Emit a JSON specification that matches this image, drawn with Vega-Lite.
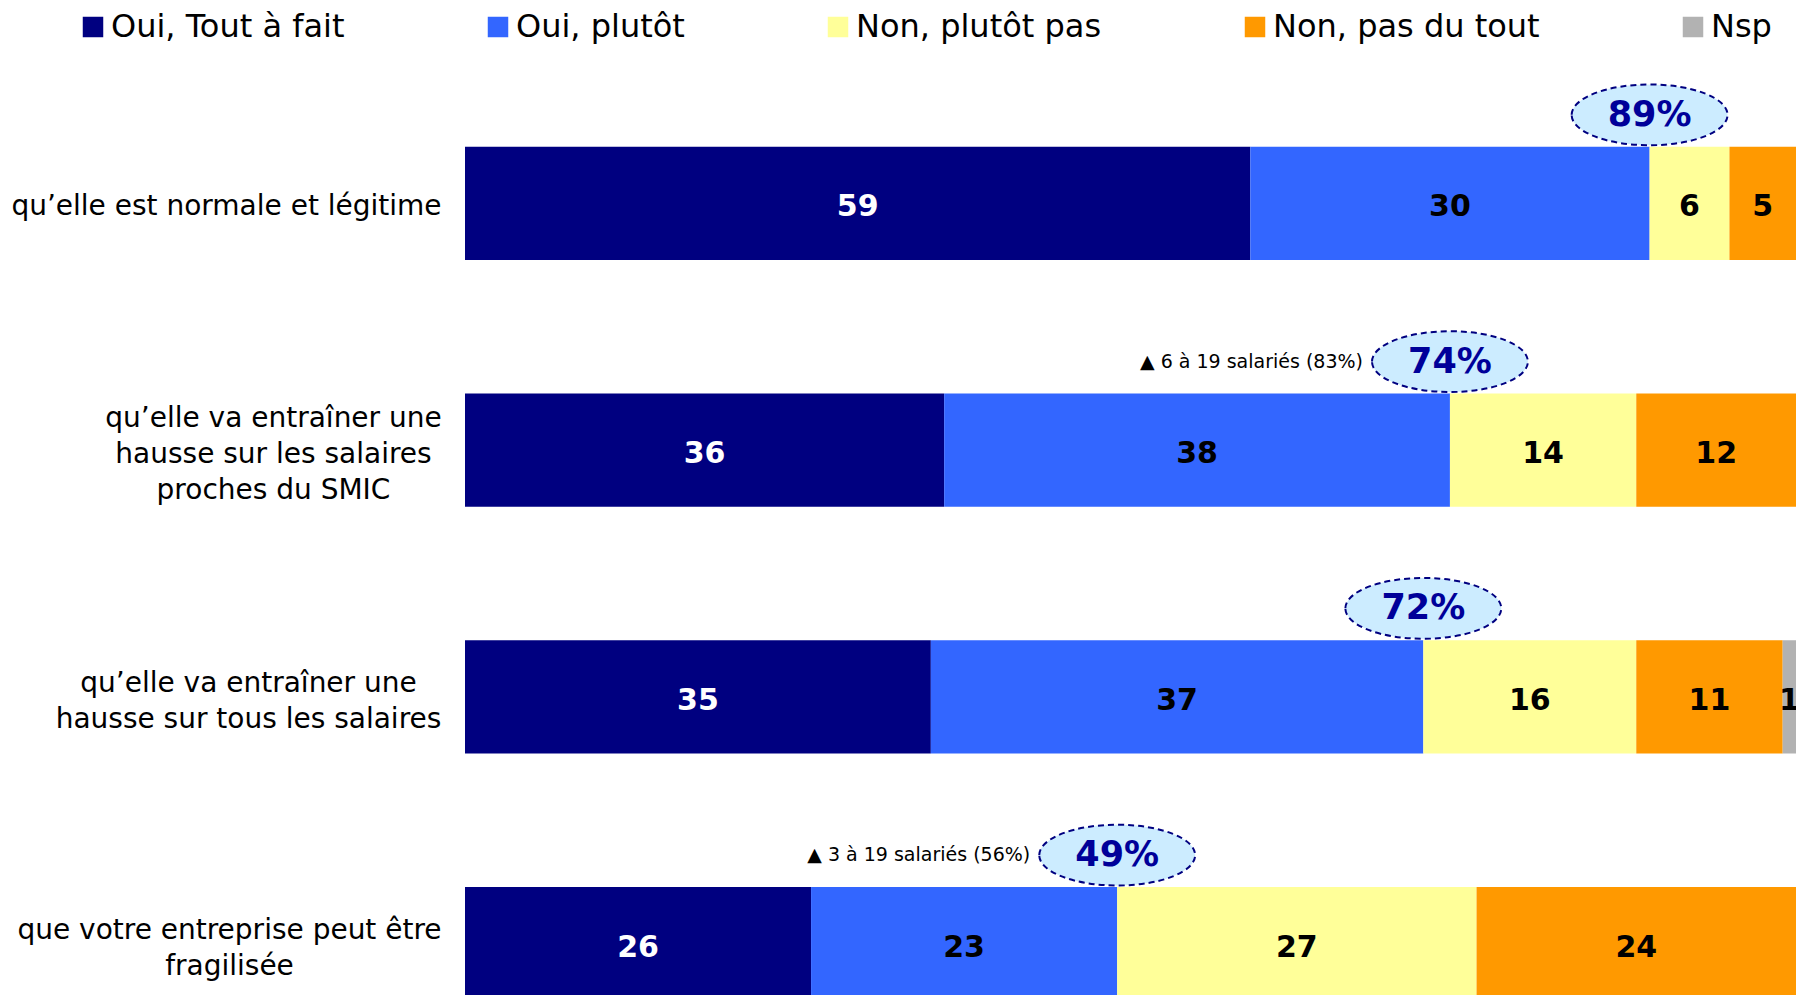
{
  "$schema": "https://vega.github.io/schema/vega-lite/v6.json",
  "width": 1331,
  "height": 987,
  "autosize": "none",
  "padding": {"left": 465, "top": 80, "right": 0, "bottom": 0},
  "background": "white",
  "config": {"view": {"stroke": null}, "font": "DejaVu Sans"},
  "datasets": {
    "bars": [
      {"q": "qu’elle est normale et légitime", "r": "Oui, Tout à fait", "k": 1, "v": 59},
      {"q": "qu’elle est normale et légitime", "r": "Oui, plutôt", "k": 2, "v": 30},
      {"q": "qu’elle est normale et légitime", "r": "Non, plutôt pas", "k": 3, "v": 6},
      {"q": "qu’elle est normale et légitime", "r": "Non, pas du tout", "k": 4, "v": 5},
      {"q": "qu’elle va entraîner une|hausse sur les salaires|proches du SMIC", "r": "Oui, Tout à fait", "k": 1, "v": 36},
      {"q": "qu’elle va entraîner une|hausse sur les salaires|proches du SMIC", "r": "Oui, plutôt", "k": 2, "v": 38},
      {"q": "qu’elle va entraîner une|hausse sur les salaires|proches du SMIC", "r": "Non, plutôt pas", "k": 3, "v": 14},
      {"q": "qu’elle va entraîner une|hausse sur les salaires|proches du SMIC", "r": "Non, pas du tout", "k": 4, "v": 12},
      {"q": "qu’elle va entraîner une|hausse sur tous les salaires", "r": "Oui, Tout à fait", "k": 1, "v": 35},
      {"q": "qu’elle va entraîner une|hausse sur tous les salaires", "r": "Oui, plutôt", "k": 2, "v": 37},
      {"q": "qu’elle va entraîner une|hausse sur tous les salaires", "r": "Non, plutôt pas", "k": 3, "v": 16},
      {"q": "qu’elle va entraîner une|hausse sur tous les salaires", "r": "Non, pas du tout", "k": 4, "v": 11},
      {"q": "qu’elle va entraîner une|hausse sur tous les salaires", "r": "Nsp", "k": 5, "v": 1},
      {"q": "que votre entreprise peut être|fragilisée", "r": "Oui, Tout à fait", "k": 1, "v": 26},
      {"q": "que votre entreprise peut être|fragilisée", "r": "Oui, plutôt", "k": 2, "v": 23},
      {"q": "que votre entreprise peut être|fragilisée", "r": "Non, plutôt pas", "k": 3, "v": 27},
      {"q": "que votre entreprise peut être|fragilisée", "r": "Non, pas du tout", "k": 4, "v": 24}
    ],
    "tops": [
      {"q": "qu’elle est normale et légitime", "total": 89, "label": "89%", "note": ""},
      {"q": "qu’elle va entraîner une|hausse sur les salaires|proches du SMIC", "total": 74, "label": "74%", "note": "▲ 6 à 19 salariés (83%)"},
      {"q": "qu’elle va entraîner une|hausse sur tous les salaires", "total": 72, "label": "72%", "note": ""},
      {"q": "que votre entreprise peut être|fragilisée", "total": 49, "label": "49%", "note": "▲ 3 à 19 salariés (56%)"}
    ]
  },
  "layer": [
    {
      "data": {"name": "bars"},
      "transform": [
        {"stack": "v", "groupby": ["q"], "sort": [{"field": "k", "order": "ascending"}], "as": ["v0", "v1"]},
        {"calculate": "(datum.v0 + datum.v1) / 2", "as": "mid"}
      ],
      "layer": [
        {
          "mark": {"type": "bar"},
          "encoding": {
            "y": {
              "field": "q", "type": "nominal", "sort": null, "title": null,
              "scale": {"paddingInner": 0.542, "paddingOuter": 0.271},
              "axis": {
                "domain": false, "ticks": false, "labelFontSize": 28, "labelFont": "DejaVu Sans",
                "labelColor": "black", "labelLimit": 600, "labelLineHeight": 36,
                "labelExpr": "split(datum.label, '|')", "labelAlign": "center", "labelBaseline": "middle",
                "labelPadding": {
                  "condition": [
                    {"test": "indexof(datum.value, 'SMIC') >= 0", "value": 192},
                    {"test": "indexof(datum.value, 'tous') >= 0", "value": 217},
                    {"test": "indexof(datum.value, 'fragilis') >= 0", "value": 236}
                  ],
                  "value": 239
                },
                "labelOffset": {
                  "condition": [
                    {"test": "indexof(datum.value, 'SMIC') >= 0", "value": -31},
                    {"test": "indexof(datum.value, 'tous') >= 0", "value": -13},
                    {"test": "indexof(datum.value, 'fragilis') >= 0", "value": -13}
                  ],
                  "value": 4
                }
              }
            },
            "x": {"field": "v0", "type": "quantitative", "scale": {"domain": [0, 100], "nice": false, "zero": true}, "axis": null},
            "x2": {"field": "v1"},
            "color": {
              "field": "r", "type": "nominal",
              "scale": {
                "domain": ["Oui, Tout à fait", "Oui, plutôt", "Non, plutôt pas", "Non, pas du tout", "Nsp"],
                "range": ["#000080", "#3366FF", "#FFFF99", "#FF9900", "#B2B2B2"]
              },
              "legend": {
                "orient": "none", "legendX": -388, "legendY": -69, "direction": "horizontal", "title": null,
                "symbolType": "square", "symbolSize": 420, "symbolStrokeWidth": 0, "symbolOpacity": 1,
                "labelFontSize": 32, "labelFont": "DejaVu Sans", "labelColor": "black",
                "columnPadding": 137, "labelOffset": 2, "labelLimit": 400
              }
            }
          }
        },
        {
          "mark": {"type": "text", "fontSize": 30, "fontWeight": "bold", "font": "DejaVu Sans", "baseline": "middle", "align": "center", "dy": 4},
          "encoding": {
            "y": {"field": "q", "type": "nominal", "sort": null},
            "x": {"field": "mid", "type": "quantitative"},
            "text": {"field": "v"},
            "color": {"condition": {"test": "datum.k === 1", "value": "white"}, "value": "black"}
          }
        }
      ]
    },
    {
      "data": {"name": "tops"},
      "layer": [
        {
          "mark": {
            "type": "point", "filled": false, "fill": "#CCECFF", "fillOpacity": 1, "opacity": 1,
            "stroke": "#000080", "strokeWidth": 2, "strokeDash": [6, 4], "yOffset": -32,
            "shape": "M-1,0 A1,0.39 0 1,1 1,0 A1,0.39 0 1,1 -1,0 Z", "size": 24300
          },
          "encoding": {
            "y": {"field": "q", "type": "nominal", "sort": null, "bandPosition": 0},
            "x": {"field": "total", "type": "quantitative"}
          }
        },
        {
          "mark": {"type": "text", "fontSize": 35, "fontWeight": "bold", "font": "DejaVu Sans", "color": "#000099", "baseline": "middle", "align": "center", "yOffset": -32},
          "encoding": {
            "y": {"field": "q", "type": "nominal", "sort": null, "bandPosition": 0},
            "x": {"field": "total", "type": "quantitative"},
            "text": {"field": "label"}
          }
        },
        {
          "mark": {"type": "text", "fontSize": 19, "font": "DejaVu Sans", "color": "black", "baseline": "middle", "align": "right", "dx": -87, "yOffset": -32},
          "encoding": {
            "y": {"field": "q", "type": "nominal", "sort": null, "bandPosition": 0},
            "x": {"field": "total", "type": "quantitative"},
            "text": {"field": "note"}
          }
        }
      ]
    }
  ]
}
